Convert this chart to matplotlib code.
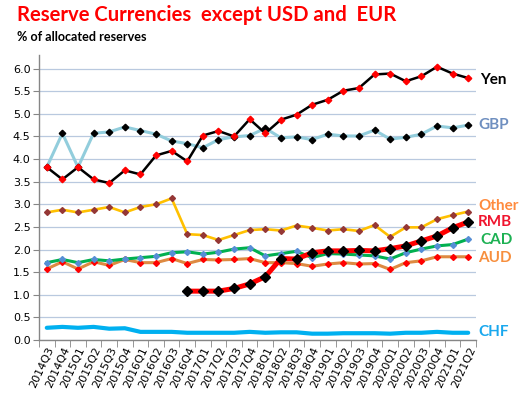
"""Reserve currency shares (excluding USD and EUR), quarterly line chart."""

import matplotlib

matplotlib.use("Agg")
import matplotlib.pyplot as plt
import matplotlib.transforms as mtransforms
import numpy as np

quarters = [
    "2014Q3", "2014Q4", "2015Q1", "2015Q2", "2015Q3", "2015Q4", "2016Q1",
    "2016Q2", "2016Q3", "2016Q4", "2017Q1", "2017Q2", "2017Q3", "2017Q4",
    "2018Q1", "2018Q2", "2018Q3", "2018Q4", "2019Q1", "2019Q2", "2019Q3",
    "2019Q4", "2020Q1", "2020Q2", "2020Q3", "2020Q4", "2021Q1", "2021Q2",
]

yen = [3.82, 3.55, 3.82, 3.55, 3.47, 3.75, 3.66, 4.08, 4.18, 3.95, 4.52, 4.62, 4.50, 4.88,
       4.57, 4.87, 4.98, 5.20, 5.31, 5.51, 5.57, 5.87, 5.89, 5.72, 5.83, 6.04, 5.89, 5.79]
gbp = [3.82, 4.57, 3.82, 4.57, 4.60, 4.71, 4.63, 4.55, 4.40, 4.34, 4.25, 4.43, 4.49, 4.52,
       4.68, 4.47, 4.49, 4.43, 4.55, 4.51, 4.51, 4.64, 4.44, 4.48, 4.55, 4.73, 4.69, 4.75]
other = [2.82, 2.88, 2.82, 2.88, 2.94, 2.82, 2.94, 3.00, 3.13, 2.34, 2.32, 2.21, 2.32, 2.43,
         2.45, 2.42, 2.53, 2.48, 2.42, 2.45, 2.41, 2.54, 2.28, 2.49, 2.49, 2.67, 2.76, 2.84]
rmb = [np.nan] * 9 + [1.08, 1.08, 1.08, 1.14, 1.24, 1.40, 1.80, 1.79, 1.93, 1.97, 1.97,
                      1.98, 1.97, 2.02, 2.08, 2.19, 2.30, 2.48, 2.61]
cad = [1.71, 1.78, 1.71, 1.78, 1.75, 1.79, 1.82, 1.85, 1.93, 1.95, 1.90, 1.94, 2.01, 2.04,
       1.86, 1.91, 1.96, 1.82, 1.91, 1.90, 1.88, 1.86, 1.79, 1.93, 2.01, 2.08, 2.11, 2.23]
aud = [1.57, 1.73, 1.57, 1.73, 1.65, 1.78, 1.71, 1.71, 1.80, 1.69, 1.78, 1.77, 1.78, 1.80,
       1.71, 1.71, 1.69, 1.63, 1.68, 1.71, 1.68, 1.69, 1.56, 1.71, 1.75, 1.84, 1.84, 1.84]
chf = [0.27, 0.29, 0.27, 0.29, 0.25, 0.26, 0.18, 0.18, 0.18, 0.16, 0.16, 0.16, 0.16, 0.18,
       0.16, 0.17, 0.17, 0.14, 0.14, 0.15, 0.15, 0.15, 0.14, 0.16, 0.16, 0.18, 0.16, 0.16]

label_font = ["Lato", "DejaVu Sans"]

fig = plt.figure(figsize=(5.31, 3.98), dpi=100)
ax = fig.add_axes([0.0734, 0.1457, 0.8230, 0.7161])

x = np.arange(len(quarters))

ax.plot(x, chf, color="#00B0F0", lw=3.0, solid_capstyle="round", zorder=3)
ax.plot(x, aud, color="#DE8A42", lw=2.2, marker="D", ms=3.0, mfc="#FF0000", mec="#FF0000", zorder=4)
ax.plot(x, cad, color="#00B050", lw=2.2, marker="D", ms=3.0, mfc="#558ED5", mec="#558ED5", zorder=5)
ax.plot(x, other, color="#FFC000", lw=1.9, marker="D", ms=3.0, mfc="#953735", mec="#953735", zorder=6)
ax.plot(x, rmb, color="#FF0000", lw=3.6, marker="D", ms=4.8, mfc="black", mec="black", zorder=7)
ax.plot(x, gbp, color="#92CDDC", lw=2.2, marker="D", ms=3.3, mfc="black", mec="black", zorder=8)
ax.plot(x, yen, color="black", lw=1.8, marker="D", ms=3.3, mfc="#FF0000", mec="#FF0000", zorder=9)

ax.set_xlim(-0.5, len(quarters) - 0.5)
ax.set_ylim(0, 6.3)
ax.set_yticks(np.arange(0, 6.01, 0.5))
ax.set_yticklabels([f"{v:.1f}" for v in np.arange(0, 6.01, 0.5)], fontsize=8)
ax.yaxis.grid(True, color="#B9C9DF", lw=0.9)
ax.set_axisbelow(True)

ax.set_xticks(x)
ax.set_xticklabels(quarters, rotation=65, ha="right", rotation_mode="anchor", fontsize=8)
ax.set_xticks(np.arange(-0.5, len(quarters)), minor=True)
ax.tick_params(axis="x", which="major", length=0, pad=4)
ax.tick_params(axis="x", which="minor", length=5, color="#868686")
ax.tick_params(axis="y", length=4, color="#868686", pad=2)

for side in ("top", "right"):
    ax.spines[side].set_visible(False)
for side in ("left", "bottom"):
    ax.spines[side].set_color("#868686")
    ax.spines[side].set_linewidth(1.0)

trans = mtransforms.blended_transform_factory(ax.transAxes, ax.transData)
labels = [
    ("Yen", 5.74, "black", 1.009),
    ("GBP", 4.75, "#6F8FC0", 1.005),
    ("Other", 2.96, "#FF8A3D", 1.005),
    ("RMB", 2.60, "#F0142D", 1.005),
    ("CAD", 2.21, "#1DB153", 1.009),
    ("AUD", 1.81, "#F78F3E", 1.005),
    ("CHF", 0.18, "#19A8EE", 1.005),
]
for text, yv, color, xa in labels:
    ax.text(xa, yv, text, transform=trans, color=color, fontsize=11, fontweight="bold",
            family=label_font, va="center", ha="left", clip_on=False)

fig.text(17 / 531, 1 - 15 / 398, "Reserve Currencies  except USD and  EUR", color="#FF0000",
         fontsize=14.6, fontweight="bold", family=label_font, va="center", ha="left")
fig.text(17 / 531, 1 - 37 / 398, "% of allocated reserves", color="black",
         fontsize=9.1, fontweight="bold", family=label_font, va="center", ha="left")

fig.savefig("out.png", dpi=100)
